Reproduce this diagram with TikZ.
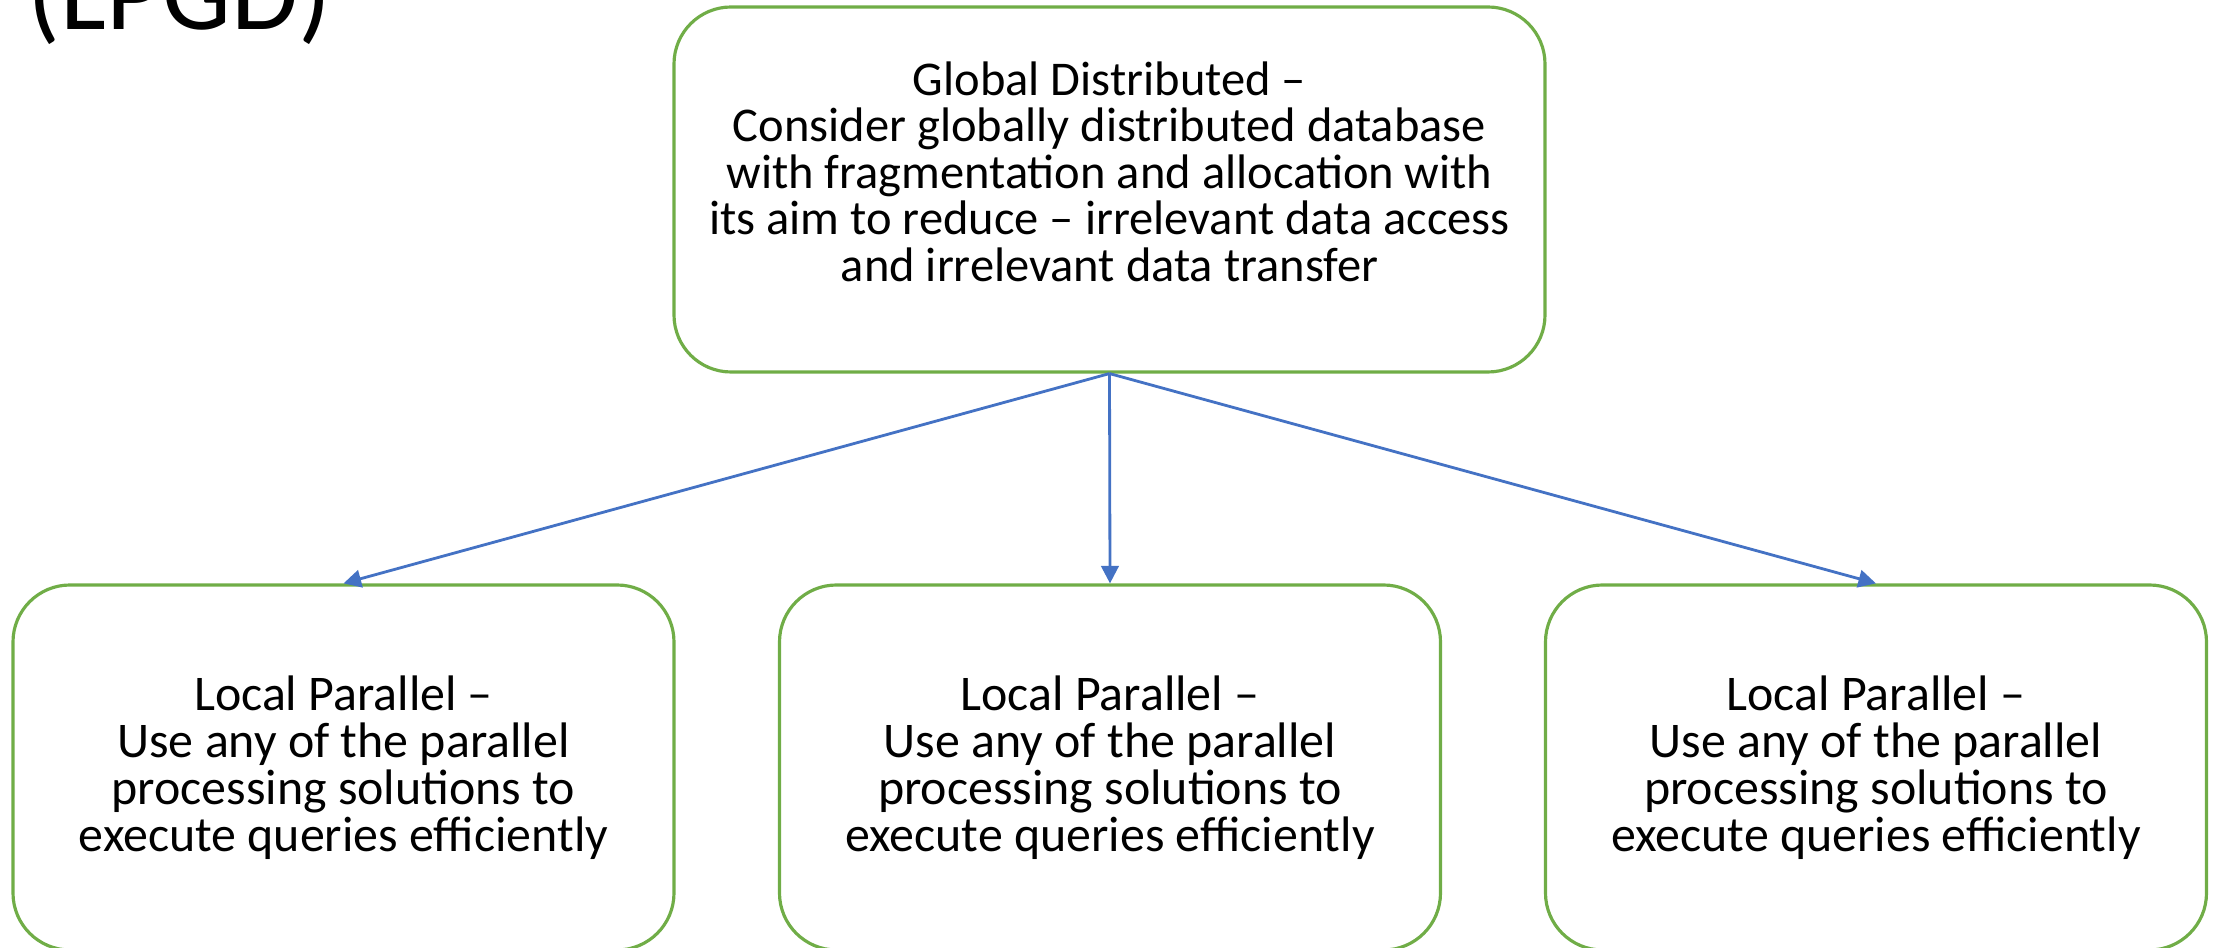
\documentclass[tikz,border=0pt]{standalone}
\usepackage{
	fontspec,			% Fonts
	tikz,
	xcolor
}
\setmainfont{Carlito}
\usetikzlibrary{arrows.meta}
\definecolor{boxgreen}{HTML}{70AD47}
\definecolor{arrowblue}{HTML}{4472C4}
\tikzset{
	levelbox/.style={draw=boxgreen, line width=0.9pt, rounded corners=0.57cm, align=center, inner sep=0pt,
		font=\fontsize{13.8pt}{13.2pt}\selectfont},
	linkarrow/.style={draw=arrowblue, line width=0.8pt, -{Triangle[length=5pt,width=5pt]}}
}

\begin{document}
\begin{tikzpicture}
		\useasboundingbox (0,0) rectangle (22.16,-9.48); % Page size.

		\node[anchor=base west, inner sep=0pt, font=\fontsize{31pt}{36pt}\selectfont] (title) at (0.27,-0.30) {(LPGD)};

		\node[levelbox, minimum width=8.71cm, minimum height=3.65cm, text depth=0.36cm] (global) at (11.095,-1.895)
			{Global Distributed --\\Consider globally distributed database\\with fragmentation and allocation with\\its aim to reduce -- irrelevant data access\\and irrelevant data transfer};

		\node[levelbox, minimum width=6.61cm, minimum height=3.65cm, font=\fontsize{14.2pt}{13.4pt}\selectfont] (localA) at (3.435,-7.675)
			{Local Parallel --\\Use any of the parallel\\processing solutions to\\execute queries efficiently};
		\node[levelbox, minimum width=6.61cm, minimum height=3.65cm, font=\fontsize{14.2pt}{13.4pt}\selectfont] (localB) at (11.10,-7.675)
			{Local Parallel --\\Use any of the parallel\\processing solutions to\\execute queries efficiently};
		\node[levelbox, minimum width=6.61cm, minimum height=3.65cm, font=\fontsize{14.2pt}{13.4pt}\selectfont] (localC) at (18.76,-7.675)
			{Local Parallel --\\Use any of the parallel\\processing solutions to\\execute queries efficiently};

		\draw[linkarrow] (global.south) -- (localA.north); % Links.
		\draw[linkarrow] (global.south) -- (localB.north);
		\draw[linkarrow] (global.south) -- (localC.north);
	\end{tikzpicture}
\end{document}
